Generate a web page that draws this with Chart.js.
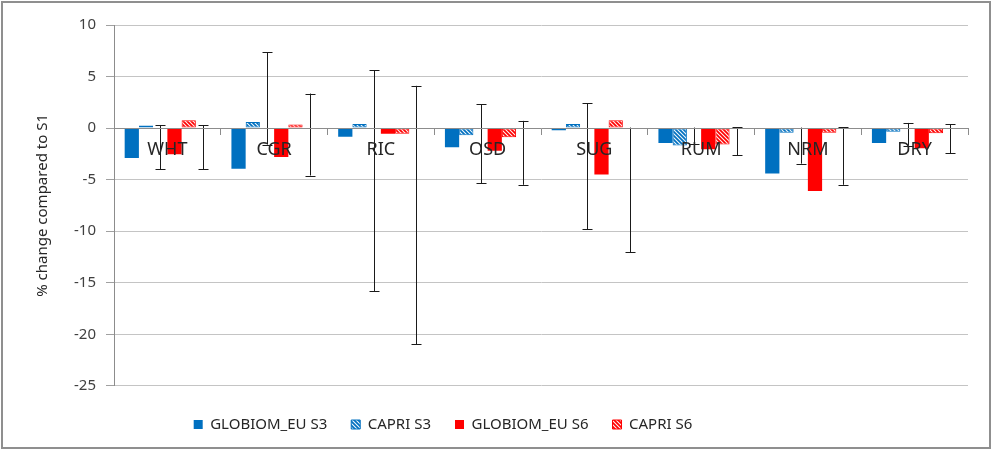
<!DOCTYPE html>
<html><head><meta charset="utf-8">
<script src="https://cdn.jsdelivr.net/npm/chart.js@4"></script>
<style>
html,body{margin:0;padding:0;background:#fff;}
#wrap{position:absolute;left:0;top:0;width:992px;height:451px;}
#frame{position:absolute;left:1px;top:1px;width:986px;height:444px;border:2px solid #8f8f8f;pointer-events:none;}
canvas{position:absolute;left:0;top:0;}
</style></head><body>
<div id="wrap"><canvas id="c" width="992" height="451"></canvas><div id="frame"></div></div>
<script>
const categories = ['WHT','CGR','RIC','OSD','SUG','RUM','NRM','DRY'];
const seriesNames = ['GLOBIOM_EU S3','CAPRI S3','GLOBIOM_EU S6','CAPRI S6'];
const globiomS3 = [-2.9,-3.95,-0.85,-1.85,-0.2,-1.45,-4.4,-1.45];
const capriS3   = [0.25,0.6,0.4,-0.7,0.4,-1.7,-0.45,-0.35];
const globiomS6 = [-2.55,-2.8,-0.55,-2.2,-4.5,-2.05,-6.1,-1.95];
const capriS6   = [0.75,0.35,-0.55,-0.9,0.75,-1.6,-0.45,-0.5];
const errS3Low  = [-4.0,-1.6,-15.8,-5.35,-9.8,-1.5,-3.45,-1.7];
const errS3High = [0.3,7.35,5.6,2.3,2.4,0.05,0.05,0.5];
const errS6Low  = [-4.0,-4.6,-20.95,-5.5,-12.05,-2.65,-5.5,-2.45];
const errS6High = [0.3,3.35,4.1,0.7,0.05,0.1,0.1,0.35];
const yMin = -25, yMax = 10, yStep = 5;
const yTitle = '% change compared to S1';

const BLUE = '#0070C0', RED = '#FF0000';
const FONT = 'Noto Sans';

function hatch(color){
  const s = 4;
  const c = document.createElement('canvas'); c.width = s; c.height = s;
  const x = c.getContext('2d');
  x.fillStyle = color; x.fillRect(0,0,s,s);
  x.strokeStyle = 'rgba(255,255,255,0.95)'; x.lineWidth = 1.1;
  x.beginPath();
  x.moveTo(0,0); x.lineTo(s,s);
  x.moveTo(-1,s-1); x.lineTo(1,s+1);
  x.moveTo(s-1,-1); x.lineTo(s+1,1);
  x.stroke();
  return x.createPattern(c,'repeat');
}
const zeros = categories.map(()=>0);

const errorBars = {
  id:'errorBars',
  afterDatasetsDraw(chart){
    const ctx = chart.ctx, ys = chart.scales.y;
    const sets = [[2,errS3Low,errS3High],[5,errS6Low,errS6High]];
    ctx.save();
    ctx.strokeStyle = '#1a1a1a'; ctx.lineWidth = 1;
    sets.forEach(([di,lo,hi])=>{
      const meta = chart.getDatasetMeta(di);
      meta.data.forEach((el,j)=>{
        const x = Math.round(el.x)+0.5;
        const y1 = ys.getPixelForValue(hi[j]), y2 = ys.getPixelForValue(lo[j]);
        ctx.beginPath();
        ctx.moveTo(x,y1); ctx.lineTo(x,y2);
        ctx.moveTo(x-5,Math.round(y1)+0.5); ctx.lineTo(x+5,Math.round(y1)+0.5);
        ctx.moveTo(x-5,Math.round(y2)+0.5); ctx.lineTo(x+5,Math.round(y2)+0.5);
        ctx.stroke();
      });
    });
    ctx.restore();
  }
};

const legendShift = {
  id:'legendShift',
  afterLayout(chart){
    const lg = chart.legend;
    if (lg){ lg.left -= 58; lg.right -= 58; }
  }
};

new Chart(document.getElementById('c'),{
  type:'bar',
  data:{
    labels:categories,
    datasets:[
      {label:seriesNames[0],data:globiomS3,backgroundColor:BLUE,borderWidth:0},
      {label:seriesNames[1],data:capriS3,backgroundColor:hatch(BLUE),borderColor:BLUE,borderWidth:1,borderSkipped:false},
      {label:'',data:zeros,backgroundColor:'rgba(0,0,0,0)',borderWidth:0},
      {label:seriesNames[2],data:globiomS6,backgroundColor:RED,borderWidth:0},
      {label:seriesNames[3],data:capriS6,backgroundColor:hatch(RED),borderColor:RED,borderWidth:1,borderSkipped:false},
      {label:'',data:zeros,backgroundColor:'rgba(0,0,0,0)',borderWidth:0}
    ]
  },
  options:{
    responsive:false,animation:false,
    categoryPercentage:0.8,barPercentage:1.0,
    layout:{padding:{left:34,right:24,top:25,bottom:9}},
    plugins:{
      tooltip:{enabled:false},
      legend:{position:'bottom',
        title:{display:true,text:' ',padding:0,font:{size:6}},
        labels:{boxWidth:9,boxHeight:9,padding:24,color:'#262626',font:{family:FONT,size:15},
          filter:(it)=>it.text!==''}}
    },
    scales:{
      x:{position:{y:0},
        grid:{drawOnChartArea:false,tickLength:6,color:'#8c8c8c',offset:true},
        border:{color:'#8c8c8c',z:1},
        ticks:{color:'#262626',font:{family:FONT,size:18},padding:5,z:1}},
      y:{min:yMin,max:yMax,
        ticks:{stepSize:yStep,color:'#404040',font:{family:FONT,size:15},padding:10},
        grid:{color:'#c4c4c4',tickLength:8,tickColor:'#a0a0a0'},
        border:{color:'#8c8c8c'},
        title:{display:true,text:yTitle,color:'#262626',font:{family:FONT,size:15},padding:{top:0,bottom:0}},
        afterFit(s){s.width=114-34;}}
    }
  },
  plugins:[errorBars,legendShift]
});
</script></body></html>
